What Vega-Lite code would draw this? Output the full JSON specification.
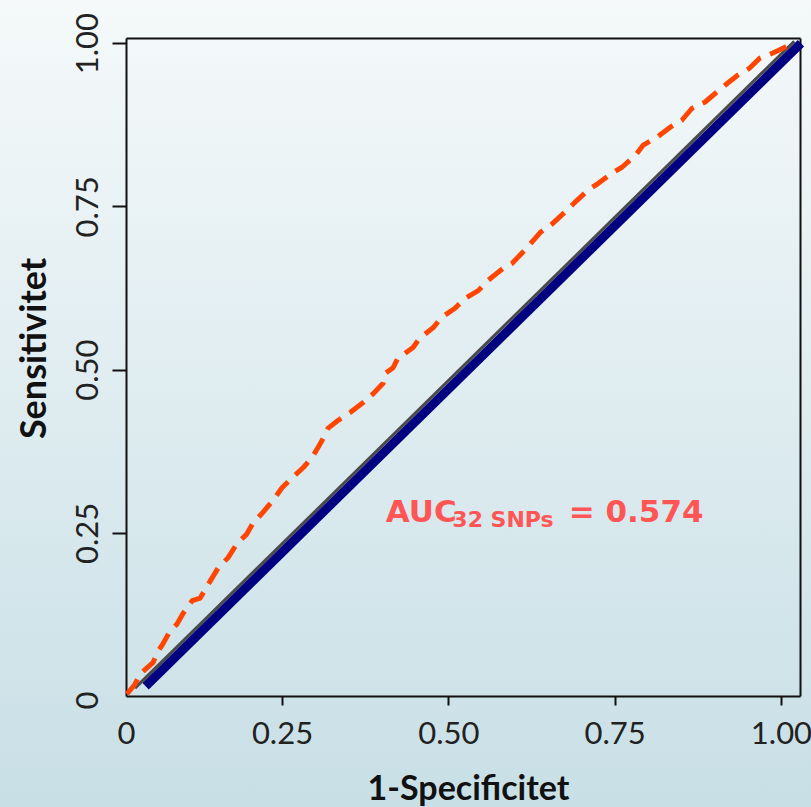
{
  "$schema": "https://vega.github.io/schema/vega-lite/v6.json",
  "width": 811,
  "height": 807,
  "autosize": "none",
  "padding": 0,
  "background": "#dfeaee",
  "config": {
    "view": {
      "stroke": null,
      "fill": {"gradient": "linear", "x1": 0, "y1": 0, "x2": 0, "y2": 1,
        "stops": [{"offset": 0, "color": "#f5f9fa"}, {"offset": 1, "color": "#c8dfe6"}]}
    }
  },
  "datasets": {
    "roc": [
      {"fpr": 0.017, "tpr": 0.003}, {"fpr": 0.029, "tpr": 0.018}, {"fpr": 0.037, "tpr": 0.034},
      {"fpr": 0.056, "tpr": 0.051}, {"fpr": 0.064, "tpr": 0.069}, {"fpr": 0.071, "tpr": 0.08},
      {"fpr": 0.082, "tpr": 0.1}, {"fpr": 0.092, "tpr": 0.11}, {"fpr": 0.101, "tpr": 0.126},
      {"fpr": 0.115, "tpr": 0.146}, {"fpr": 0.127, "tpr": 0.15}, {"fpr": 0.142, "tpr": 0.176},
      {"fpr": 0.154, "tpr": 0.196}, {"fpr": 0.169, "tpr": 0.212}, {"fpr": 0.182, "tpr": 0.233},
      {"fpr": 0.197, "tpr": 0.248}, {"fpr": 0.206, "tpr": 0.264}, {"fpr": 0.221, "tpr": 0.281},
      {"fpr": 0.236, "tpr": 0.299}, {"fpr": 0.25, "tpr": 0.319}, {"fpr": 0.265, "tpr": 0.334},
      {"fpr": 0.282, "tpr": 0.35}, {"fpr": 0.295, "tpr": 0.365}, {"fpr": 0.31, "tpr": 0.391},
      {"fpr": 0.319, "tpr": 0.41}, {"fpr": 0.334, "tpr": 0.422}, {"fpr": 0.352, "tpr": 0.434},
      {"fpr": 0.37, "tpr": 0.448}, {"fpr": 0.387, "tpr": 0.463}, {"fpr": 0.402, "tpr": 0.479},
      {"fpr": 0.405, "tpr": 0.494}, {"fpr": 0.417, "tpr": 0.503}, {"fpr": 0.424, "tpr": 0.517},
      {"fpr": 0.447, "tpr": 0.534}, {"fpr": 0.457, "tpr": 0.548}, {"fpr": 0.477, "tpr": 0.564},
      {"fpr": 0.49, "tpr": 0.58}, {"fpr": 0.51, "tpr": 0.594}, {"fpr": 0.525, "tpr": 0.609},
      {"fpr": 0.545, "tpr": 0.621}, {"fpr": 0.56, "tpr": 0.637}, {"fpr": 0.582, "tpr": 0.655},
      {"fpr": 0.596, "tpr": 0.663}, {"fpr": 0.615, "tpr": 0.683}, {"fpr": 0.638, "tpr": 0.71},
      {"fpr": 0.657, "tpr": 0.724}, {"fpr": 0.678, "tpr": 0.744}, {"fpr": 0.693, "tpr": 0.759},
      {"fpr": 0.71, "tpr": 0.775}, {"fpr": 0.725, "tpr": 0.785}, {"fpr": 0.746, "tpr": 0.801},
      {"fpr": 0.761, "tpr": 0.81}, {"fpr": 0.781, "tpr": 0.828}, {"fpr": 0.793, "tpr": 0.844},
      {"fpr": 0.814, "tpr": 0.856}, {"fpr": 0.833, "tpr": 0.871}, {"fpr": 0.851, "tpr": 0.882},
      {"fpr": 0.866, "tpr": 0.9}, {"fpr": 0.886, "tpr": 0.91}, {"fpr": 0.901, "tpr": 0.923},
      {"fpr": 0.92, "tpr": 0.939}, {"fpr": 0.935, "tpr": 0.951}, {"fpr": 0.953, "tpr": 0.962},
      {"fpr": 0.968, "tpr": 0.977}, {"fpr": 0.988, "tpr": 0.985}, {"fpr": 1.006, "tpr": 0.994},
      {"fpr": 1.021, "tpr": 1.002}
    ],
    "ref": [{"fpr": 0.029, "tpr": 0.012}, {"fpr": 1.02, "tpr": 1.003}],
    "diag": [{"fpr": 0.045, "tpr": 0.015}, {"fpr": 1.03, "tpr": 1.0}],
    "main": [{"fpr": 0.406, "tpr": 0.267, "label": "AUC"}, {"fpr": 0.681, "tpr": 0.267, "label": "= 0.574"}],
    "sub": [{"fpr": 0.506, "tpr": 0.259, "label": "32 SNPs"}]
  },
  "resolve": {"axis": {"x": "independent", "y": "independent"}},
  "layer": [
    {
      "data": {"name": "ref"},
      "mark": {"type": "line", "color": "#4a4a4a", "strokeWidth": 3, "strokeCap": "butt"},
      "encoding": {
        "x": {"field": "fpr", "type": "quantitative",
          "scale": {"domain": [0.0155, 1.0286], "range": [126, 800], "nice": false, "zero": false},
          "axis": {"orient": "top", "offset": -38, "labels": false, "ticks": false, "grid": false, "title": null, "domainColor": "#111", "domainWidth": 2}},
        "y": {"field": "tpr", "type": "quantitative",
          "scale": {"domain": [0, 1.008], "range": [696, 38], "nice": false, "zero": false},
          "axis": {"orient": "right", "offset": -11, "labels": false, "ticks": false, "grid": false, "title": null, "domainColor": "#111", "domainWidth": 2}}
      }
    },
    {
      "data": {"name": "diag"},
      "mark": {"type": "line", "color": "#000080", "strokeWidth": 9, "strokeCap": "butt"},
      "encoding": {
        "x": {"field": "fpr", "type": "quantitative", "axis": null},
        "y": {"field": "tpr", "type": "quantitative", "axis": null}
      }
    },
    {
      "data": {"name": "roc"},
      "mark": {"type": "line", "color": "#ff4500", "strokeWidth": 5, "strokeDash": [18, 10], "strokeCap": "butt", "strokeJoin": "round"},
      "encoding": {
        "x": {"field": "fpr", "type": "quantitative",
          "axis": {"orient": "bottom", "offset": -111, "grid": false,
            "values": [0.0155, 0.25, 0.5, 0.75, 1],
            "labelExpr": "datum.value < 0.1 ? '0' : format(datum.value, '.2f')",
            "tickSize": 9, "tickWidth": 2, "tickColor": "#111",
            "tickOpacity": {"condition": {"test": "datum.value < 0.1", "value": 0}, "value": 1},
            "domainColor": "#111", "domainWidth": 2,
            "labelFont": "Lato", "labelFontSize": 31, "labelColor": "#222", "labelFontWeight": "normal",
            "labelBaseline": "alphabetic", "labelPadding": 38, "labelFlush": false, "labelOverlap": false, "labelBound": false,
            "title": "1-Specificitet", "titleFont": "Lato", "titleFontSize": 34, "titleFontWeight": "bold", "titleColor": "#111",
            "titleX": 468, "titleY": 103, "titleBaseline": "alphabetic", "titleAlign": "center", "titleAngle": 0}},
        "y": {"field": "tpr", "type": "quantitative",
          "axis": {"orient": "left", "offset": -126, "grid": false,
            "values": [0, 0.25, 0.5, 0.75, 1],
            "labelExpr": "datum.value === 0 ? '0' : format(datum.value, '.2f')",
            "tickSize": 14, "tickWidth": 2, "tickColor": "#111",
            "tickOpacity": {"condition": {"test": "datum.value === 0", "value": 0}, "value": 1},
            "labelOffset": {"condition": {"test": "datum.value === 0", "value": 4}, "value": 0},
            "domainColor": "#111", "domainWidth": 2,
            "labelFont": "Lato", "labelFontSize": 31, "labelColor": "#222", "labelAngle": 270,
            "labelAlign": "center", "labelBaseline": "alphabetic", "labelPadding": 15,
            "labelFlush": false, "labelOverlap": false, "labelBound": false,
            "title": "Sensitivitet", "titleFont": "Lato", "titleFontSize": 36, "titleFontWeight": "bold", "titleColor": "#111",
            "titleAngle": 270, "titleX": -81, "titleY": 348, "titleBaseline": "alphabetic", "titleAlign": "center"}}
      }
    },
    {
      "data": {"name": "main"},
      "mark": {"type": "text", "font": "DejaVu Sans", "fontWeight": "bold", "fontSize": 31, "color": "#ff5555", "align": "left", "baseline": "alphabetic"},
      "encoding": {
        "x": {"field": "fpr", "type": "quantitative", "axis": null},
        "y": {"field": "tpr", "type": "quantitative", "axis": null},
        "text": {"field": "label"}
      }
    },
    {
      "data": {"name": "sub"},
      "mark": {"type": "text", "font": "DejaVu Sans", "fontWeight": "bold", "fontSize": 22, "color": "#ff5555", "align": "left", "baseline": "alphabetic"},
      "encoding": {
        "x": {"field": "fpr", "type": "quantitative", "axis": null},
        "y": {"field": "tpr", "type": "quantitative", "axis": null},
        "text": {"field": "label"}
      }
    }
  ]
}
